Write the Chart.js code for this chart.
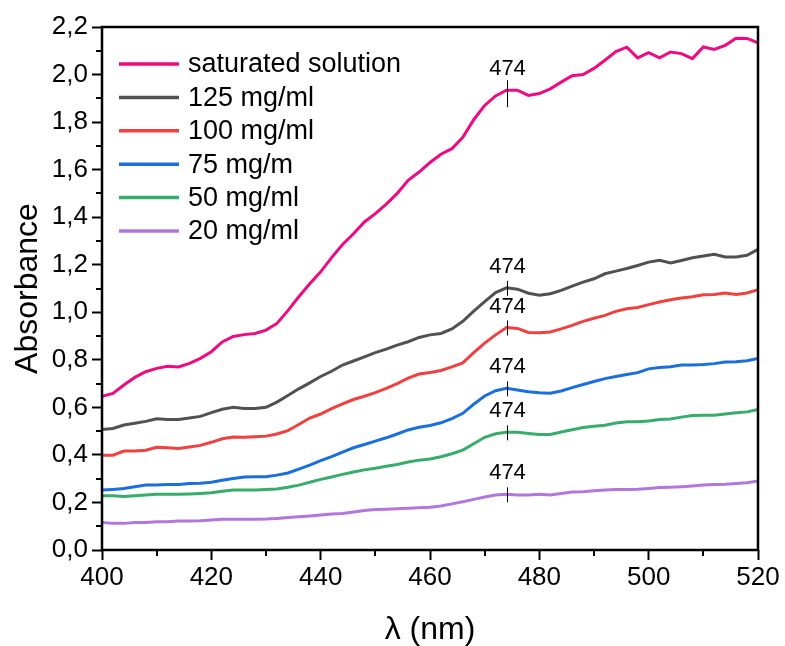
<!DOCTYPE html>
<html><head><meta charset="utf-8">
<script src="https://cdn.jsdelivr.net/npm/chart.js@4.4.1/dist/chart.umd.min.js"></script>
<style>html,body{margin:0;padding:0;background:#fff}#wrap{width:785px;height:646px}</style>
</head><body><div id="wrap"><canvas id="c" width="785" height="646"></canvas></div>
<script>
const wavelengths = [400,402,404,406,408,410,412,414,416,418,420,422,424,426,428,430,432,434,436,438,440,442,444,446,448,450,452,454,456,458,460,462,464,466,468,470,472,474,476,478,480,482,484,486,488,490,492,494,496,498,500,502,504,506,508,510,512,514,516,518,520];

const saturated = [0.647,0.659,0.694,0.726,0.750,0.764,0.773,0.770,0.785,0.806,0.834,0.875,0.898,0.906,0.911,0.925,0.953,1.007,1.065,1.120,1.170,1.230,1.285,1.330,1.380,1.415,1.455,1.500,1.555,1.590,1.630,1.665,1.688,1.736,1.810,1.870,1.910,1.934,1.934,1.912,1.920,1.940,1.968,1.995,2.000,2.026,2.060,2.097,2.115,2.070,2.092,2.070,2.095,2.088,2.067,2.116,2.106,2.123,2.153,2.152,2.133];
const mg125 = [0.507,0.511,0.526,0.533,0.541,0.552,0.549,0.549,0.555,0.562,0.578,0.592,0.600,0.595,0.595,0.600,0.622,0.650,0.678,0.703,0.730,0.752,0.778,0.795,0.812,0.830,0.845,0.862,0.876,0.894,0.905,0.911,0.930,0.962,1.005,1.045,1.083,1.103,1.097,1.080,1.072,1.078,1.092,1.110,1.127,1.141,1.162,1.173,1.184,1.197,1.211,1.219,1.207,1.218,1.229,1.237,1.244,1.233,1.233,1.240,1.265];
const mg100 = [0.399,0.399,0.416,0.416,0.420,0.432,0.430,0.427,0.433,0.440,0.453,0.468,0.475,0.474,0.476,0.479,0.488,0.502,0.528,0.555,0.572,0.595,0.615,0.633,0.647,0.662,0.680,0.700,0.723,0.740,0.747,0.755,0.770,0.787,0.830,0.870,0.905,0.936,0.932,0.915,0.914,0.917,0.930,0.945,0.962,0.975,0.987,1.004,1.015,1.020,1.032,1.043,1.053,1.060,1.065,1.074,1.075,1.081,1.075,1.081,1.095];
const mg75 = [0.252,0.255,0.259,0.266,0.273,0.273,0.276,0.276,0.280,0.281,0.285,0.293,0.301,0.307,0.308,0.308,0.315,0.324,0.340,0.357,0.376,0.393,0.412,0.430,0.444,0.458,0.472,0.488,0.505,0.516,0.524,0.535,0.553,0.575,0.613,0.648,0.670,0.680,0.673,0.666,0.661,0.659,0.669,0.683,0.696,0.709,0.721,0.730,0.738,0.746,0.762,0.768,0.771,0.778,0.778,0.780,0.784,0.791,0.792,0.796,0.806];
const mg50 = [0.228,0.228,0.225,0.228,0.231,0.235,0.234,0.234,0.236,0.238,0.241,0.247,0.252,0.252,0.252,0.254,0.257,0.264,0.273,0.285,0.297,0.307,0.318,0.328,0.337,0.344,0.352,0.360,0.370,0.378,0.383,0.392,0.405,0.420,0.447,0.474,0.489,0.495,0.495,0.490,0.486,0.486,0.496,0.506,0.515,0.521,0.525,0.534,0.539,0.539,0.543,0.549,0.551,0.559,0.566,0.567,0.567,0.572,0.577,0.581,0.591];
const mg20 = [0.116,0.112,0.112,0.116,0.116,0.119,0.119,0.122,0.122,0.123,0.126,0.129,0.129,0.129,0.129,0.130,0.133,0.137,0.140,0.143,0.147,0.151,0.154,0.160,0.166,0.170,0.171,0.173,0.176,0.178,0.180,0.185,0.194,0.203,0.213,0.223,0.231,0.234,0.231,0.231,0.234,0.231,0.238,0.244,0.245,0.249,0.252,0.255,0.255,0.256,0.259,0.263,0.264,0.266,0.269,0.273,0.276,0.277,0.280,0.283,0.290];

const seriesLabels = ['saturated solution','125 mg/ml','100 mg/ml','75 mg/m','50 mg/ml','20 mg/ml'];
const seriesValues = [saturated, mg125, mg100, mg75, mg50, mg20];
const seriesColors = ['#EE0A82','#515151','#F14040','#1A6FDF','#37AD6B','#B177DE'];
const peakWavelength = 474;
const peakLabel = '474';
const xTicks = [400,420,440,460,480,500,520];
const yTicks = [0,0.2,0.4,0.6,0.8,1.0,1.2,1.4,1.6,1.8,2.0,2.2];

const FONT = '"Liberation Sans", Arial, Helvetica, sans-serif';

const datasets = seriesLabels.map((lab, i) => ({
  label: lab,
  data: wavelengths.map((w, j) => ({x: w, y: seriesValues[i][j]})),
  borderColor: seriesColors[i],
  backgroundColor: seriesColors[i],
  borderWidth: 3,
  pointRadius: 0,
  tension: 0,
  fill: false
}));

const framePlugin = {
  id: 'frame',
  afterDraw(chart) {
    const {ctx, chartArea: a, scales} = chart;
    ctx.save();
    ctx.strokeStyle = '#000';
    ctx.lineWidth = 2;
    ctx.beginPath();
    for (let i = 0; i < xTicks.length - 1; i++) {
      const v = (xTicks[i] + xTicks[i + 1]) / 2;
      const px = Math.round(scales.x.getPixelForValue(v));
      ctx.moveTo(px, a.bottom); ctx.lineTo(px, a.bottom + 6);
    }
    for (let i = 0; i < yTicks.length - 1; i++) {
      const v = (yTicks[i] + yTicks[i + 1]) / 2;
      const py = Math.round(scales.y.getPixelForValue(v));
      ctx.moveTo(a.left, py); ctx.lineTo(a.left - 6, py);
    }
    ctx.stroke();
    ctx.lineWidth = 2.5;
    ctx.strokeRect(a.left, a.top, a.right - a.left, a.bottom - a.top);
    ctx.restore();
  }
};

const peakPlugin = {
  id: 'peaks',
  afterDatasetsDraw(chart) {
    const {ctx, scales} = chart;
    const idx = wavelengths.indexOf(peakWavelength);
    const px = Math.round(scales.x.getPixelForValue(peakWavelength)) + 0.5;
    ctx.save();
    ctx.strokeStyle = '#000';
    ctx.lineWidth = 1;
    ctx.fillStyle = '#000';
    ctx.font = '22px ' + FONT;
    ctx.textAlign = 'center';
    ctx.textBaseline = 'middle';
    seriesValues.forEach((vals, i) => {
      const py = scales.y.getPixelForValue(vals[idx]);
      const up = i === 0 ? 10 : 7;
      const down = i === 0 ? 17 : 8;
      ctx.beginPath();
      ctx.moveTo(px, py - up); ctx.lineTo(px, py + down);
      ctx.stroke();
      ctx.fillText(peakLabel, px, py - 21);
    });
    ctx.restore();
  }
};

const legendPlugin = {
  id: 'insideLegend',
  afterDraw(chart) {
    const {ctx, chartArea: a} = chart;
    ctx.save();
    ctx.font = '27px ' + FONT;
    ctx.textBaseline = 'middle';
    ctx.textAlign = 'left';
    chart.data.datasets.forEach((ds, i) => {
      const y = a.top + 37 + i * 33.4;
      ctx.strokeStyle = ds.borderColor;
      ctx.lineWidth = 3.5;
      ctx.beginPath();
      ctx.moveTo(a.left + 17, y); ctx.lineTo(a.left + 77, y);
      ctx.stroke();
      ctx.fillStyle = '#000';
      ctx.fillText(ds.label, a.left + 86, y + 1);
    });
    ctx.restore();
  }
};

new Chart(document.getElementById('c'), {
  type: 'line',
  data: { datasets },
  plugins: [peakPlugin, framePlugin, legendPlugin],
  options: {
    responsive: false,
    animation: false,
    devicePixelRatio: 1,
    layout: { padding: { top: 27, right: 27, left: 0, bottom: 0 } },
    plugins: { legend: { display: false }, tooltip: { enabled: false } },
    scales: {
      x: {
        type: 'linear', min: 400, max: 520,
        afterBuildTicks: s => { s.ticks = xTicks.map(v => ({value: v})); },
        ticks: { color: '#000', font: { family: FONT, size: 26 }, padding: 2, maxRotation: 0, autoSkip: false,
                 callback: v => String(v) },
        grid: { drawOnChartArea: false, drawTicks: true, tickLength: 10, tickColor: '#000', tickWidth: 2 },
        border: { display: false },
        title: { display: true, text: 'λ (nm)', color: '#000', font: { family: FONT, size: 32, lineHeight: 1 }, padding: { top: 0, bottom: 0 } },
        afterFit: s => { s.height = 96; }
      },
      y: {
        type: 'linear', min: 0, max: 2.2,
        afterBuildTicks: s => { s.ticks = yTicks.map(v => ({value: v})); },
        ticks: { color: '#000', font: { family: FONT, size: 26 }, padding: 4, autoSkip: false,
                 callback: v => Number(v).toFixed(1).replace('.', ',') },
        grid: { drawOnChartArea: false, drawTicks: true, tickLength: 10, tickColor: '#000', tickWidth: 2 },
        border: { display: false },
        title: { display: true, text: 'Absorbance', color: '#000', font: { family: FONT, size: 32, lineHeight: 1 }, padding: { top: 12, bottom: 0 } },
        afterFit: s => { s.width = 102; }
      }
    }
  }
});
</script>
</body></html>
